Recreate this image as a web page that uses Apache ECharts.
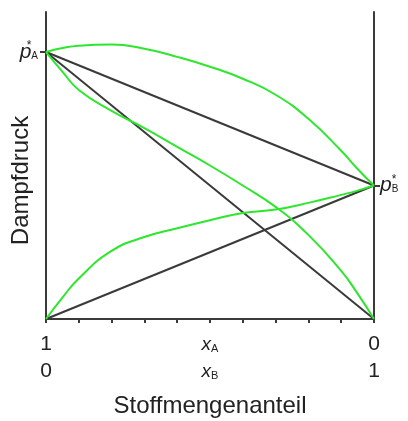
<html>
<head>
<meta charset="utf-8"/>
<title>Dampfdruck</title>
<script src="https://cdn.jsdelivr.net/npm/echarts@6/dist/echarts.min.js"></script>
<style>
  body { margin: 0; padding: 0; background: #fff; }
  #chart { width: 408px; height: 421px; }
</style>
</head>
<body>
<div id="chart"></div>
<script type="text/javascript">
// x = Stoffmengenanteil x_B (0 links, 1 rechts), y = Dampfdruck relativ zu p_A*
let pA = 1.0;
let pB = 0.5;

// ideale Geraden (Raoult)
let idealA = [[0, pA], [1, 0]];
let idealB = [[0, 0], [1, pB]];
let idealTotal = [[0, pA], [1, pB]];

// reale Kurven (positive Abweichung)
let xSteps = [0, 0.05, 0.1, 0.2, 0.3, 0.4, 0.5, 0.6, 0.7, 0.8, 0.9, 0.95, 1];
let realA = [1, 0.927, 0.858, 0.78, 0.715, 0.645, 0.575, 0.5, 0.42, 0.315, 0.18, 0.095, 0];
let realB = [0, 0.08, 0.152, 0.255, 0.307, 0.34, 0.37, 0.397, 0.41, 0.435, 0.465, 0.481, 0.5];
let realTotal = [1, 1.015, 1.024, 1.028, 1.012, 0.982, 0.945, 0.9, 0.84, 0.75, 0.63, 0.562, 0.5];

function pairs(xs, ys) {
  return xs.map((x, i) => [x, ys[i]]);
}

let chart = echarts.init(document.getElementById('chart'));

let dark = '#3a3a3a';
let green = '#2ee62e';
let font = 'Liberation Sans';

let richLabels = {
  n: { fontSize: 21, lineHeight: 27, color: '#222', fontFamily: font },
  i: { fontSize: 19, lineHeight: 27, color: '#222', fontFamily: font, fontStyle: 'italic', verticalAlign: 'middle' },
  s: { fontSize: 11, lineHeight: 27, color: '#222', fontFamily: font, verticalAlign: 'bottom', padding: [0, 0, 4, 0] },
  p: { fontSize: 21, lineHeight: 24, color: '#222', fontFamily: font, fontStyle: 'italic' },
  st: { fontSize: 12, lineHeight: 24, color: '#222', fontFamily: font, verticalAlign: 'top', width: 0 },
  sb: { fontSize: 10, lineHeight: 24, color: '#222', fontFamily: font, verticalAlign: 'bottom', padding: [0, 0, 3, 0] }
};

function lineSeries(data, color, smooth) {
  return {
    type: 'line',
    data: data,
    showSymbol: false,
    smooth: smooth,
    silent: true,
    lineStyle: { color: color, width: 2 }
  };
}

chart.setOption({
  animation: false,
  grid: { left: 46, right: 34, top: 12, bottom: 102, outerBoundsMode: 'none' },
  xAxis: {
    type: 'value',
    min: 0,
    max: 1,
    interval: 0.1,
    name: 'Stoffmengenanteil',
    nameLocation: 'middle',
    nameGap: 75,
    nameMoveOverlap: false,
    nameTextStyle: { fontSize: 24, color: '#222', fontFamily: font },
    axisLine: { lineStyle: { color: dark, width: 2 } },
    axisTick: { show: true, length: 4, lineStyle: { color: dark, width: 2 } },
    splitLine: { show: false },
    axisLabel: {
      customValues: [0, 0.5, 1],
      margin: 12,
      rich: richLabels,
      formatter: (v) => {
        if (v === 0) return '{n|1}\n{n|0}';
        if (v === 1) return '{n|0}\n{n|1}';
        return '{i|x}{s|A}\n{i|x}{s|B}';
      }
    }
  },
  yAxis: [
    {
      type: 'value',
      min: 0,
      max: 1.15,
      position: 'left',
      name: 'Dampfdruck',
      nameLocation: 'middle',
      nameGap: 13,
      nameMoveOverlap: false,
      nameTextStyle: { fontSize: 24, color: '#222', fontFamily: font, padding: [0, 30, 0, 0] },
      axisLine: { show: true, lineStyle: { color: dark, width: 2 } },
      axisTick: { show: true, customValues: [pA], length: 6, lineStyle: { color: dark, width: 2 } },
      splitLine: { show: false },
      axisLabel: {
        customValues: [pA],
        margin: 8,
        rich: richLabels,
        formatter: () => '{p|p}{st|*}{sb|A}'
      }
    },
    {
      type: 'value',
      min: 0,
      max: 1.15,
      position: 'right',
      axisLine: { show: true, lineStyle: { color: dark, width: 2 } },
      axisTick: { show: true, customValues: [pB], length: 6, lineStyle: { color: dark, width: 2 } },
      splitLine: { show: false },
      axisLabel: {
        customValues: [pB],
        margin: 6,
        rich: richLabels,
        formatter: () => '{p|p}{st|*}{sb|B}'
      }
    }
  ],
  series: [
    lineSeries(idealA, dark, false),
    lineSeries(idealB, dark, false),
    lineSeries(idealTotal, dark, false),
    lineSeries(pairs(xSteps, realA), green, 0.5),
    lineSeries(pairs(xSteps, realB), green, 0.5),
    lineSeries(pairs(xSteps, realTotal), green, 0.5)
  ]
});
</script>
</body>
</html>
